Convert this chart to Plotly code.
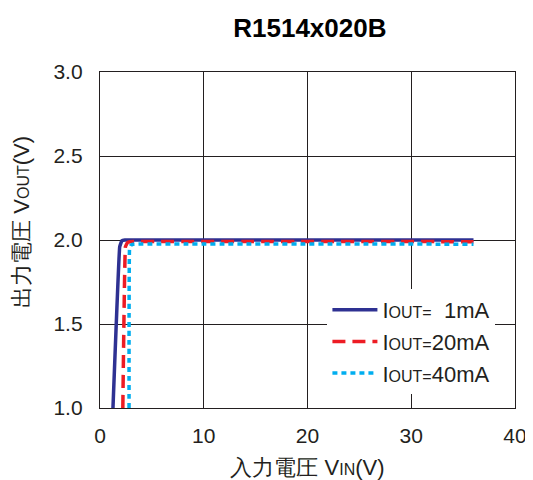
import plotly.graph_objects as go

title = "R1514x020B"
vin_1mA = [1.25, 1.9, 2.1, 2.4, 36.0]
vout_1mA = [1.0, 1.96, 1.995, 2.0, 2.0]
vin_20mA = [2.2, 2.45, 2.65, 2.9, 36.0]
vout_20mA = [1.0, 1.96, 1.985, 1.99, 1.99]
vin_40mA = [2.8, 2.85, 3.0, 3.2, 36.0]
vout_40mA = [1.0, 1.95, 1.97, 1.975, 1.975]
x_ticks = [0, 10, 20, 30, 40]
y_ticks = [1.0, 1.5, 2.0, 2.5, 3.0]

small = "<span style='font-size:16px'>{}</span>"
fig = go.Figure()
fig.add_trace(go.Scatter(x=vin_1mA, y=vout_1mA, mode="lines",
                         name="I" + small.format("OUT=") + "  1mA",
                         line=dict(color="#2e3192", width=3.5, shape="spline", smoothing=0.2)))
fig.add_trace(go.Scatter(x=vin_20mA, y=vout_20mA, mode="lines",
                         name="I" + small.format("OUT=") + "20mA",
                         line=dict(color="#ed1c24", width=3.5, dash="13px,7px", shape="spline", smoothing=0.2)))
fig.add_trace(go.Scatter(x=vin_40mA, y=vout_40mA, mode="lines",
                         name="I" + small.format("OUT=") + "40mA",
                         line=dict(color="#00aeef", width=3.5, dash="5px,4px", shape="spline", smoothing=0.2)))

font = "Liberation Sans, Arial, sans-serif"
fig.update_layout(
    width=525, height=472,
    margin=dict(l=92, r=18, t=64, b=72, autoexpand=False),
    paper_bgcolor="white", plot_bgcolor="white",
    font=dict(family=font, size=21, color="#231f20"),
    title=dict(text="<b>" + title + "</b>", x=0.575, xanchor="center", y=0.958, yanchor="middle",
               font=dict(size=26, color="#000000")),
    xaxis=dict(range=[0, 40], tickvals=x_ticks, ticktext=[str(v) for v in x_ticks],
               showgrid=True, gridcolor="#231f20", gridwidth=1.3,
               showline=True, linecolor="#231f20", linewidth=1.3, mirror=True,
               ticks="", zeroline=False, automargin=False, ticklabelstandoff=9,
               title=dict(text="入力電圧 V" + small.format("IN") + "(V)", standoff=14,
                          font=dict(size=22))),
    yaxis=dict(range=[1.0, 3.0], tickvals=y_ticks, ticktext=["%.1f" % v for v in y_ticks],
               showgrid=True, gridcolor="#231f20", gridwidth=1.3,
               showline=True, linecolor="#231f20", linewidth=1.3, mirror=True,
               ticks="", zeroline=False, ticklabelstandoff=12, automargin=False),
    legend=dict(x=0.548, y=0.354, xanchor="left", yanchor="top",
                bgcolor="white", borderwidth=0, itemwidth=45,
                font=dict(size=22), tracegroupgap=0),
    showlegend=True,
    annotations=[dict(text="出力電圧 V" + small.format("OUT") + "(V)", textangle=-90,
                      xref="paper", yref="paper", x=-0.188, y=0.554,
                      xanchor="center", yanchor="middle", showarrow=False,
                      font=dict(size=22, color="#231f20"))],
)
fig.write_html("out.html")
